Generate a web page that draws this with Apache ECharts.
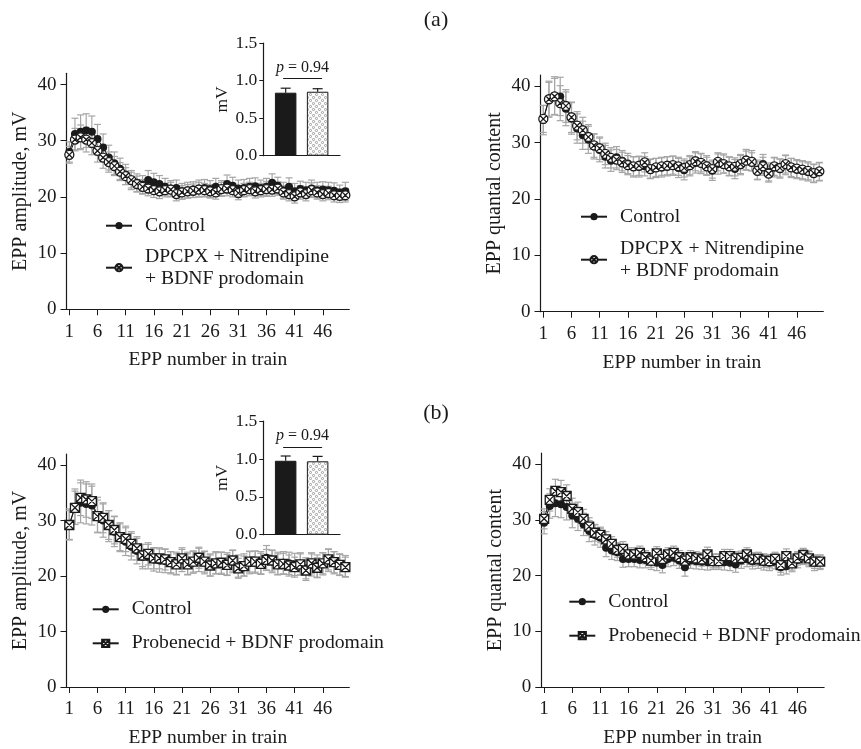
<!DOCTYPE html>
<html><head><meta charset="utf-8">
<script src="https://cdn.jsdelivr.net/npm/echarts@6/dist/echarts.min.js"></script>
<style>html,body{margin:0;padding:0;background:#fff}#c{width:861px;height:749px}</style>
</head><body><div id="c"></div>
<script>
// ---------- categories / ticks ----------
const eppNumbers = Array.from({length: 50}, (_, i) => i + 1);
const eppTicks = [1, 6, 11, 16, 21, 26, 31, 36, 41, 46];
const yTicks = [0, 10, 20, 30, 40];
const insetTicks = [0, 0.5, 1.0, 1.5];
const nameCtrl = 'Control';
const nameDP = 'DPCPX + Nitrendipine\n+ BDNF prodomain';
const namePB = 'Probenecid + BDNF prodomain';
const pText = '0.94';

// ---------- (a) EPP amplitude, DPCPX + Nitrendipine + BDNF prodomain ----------
const ampCtrlA = [28,31.2,31.6,31.8,31.6,30.3,28.8,27,26,25,24,23,22.5,22.2,23,22.6,22.3,21.8,21.5,21.6,21,21.2,21.3,21.5,21.6,21.4,21.8,21.5,22.3,22,21.5,21.6,21.8,21.9,21.6,21.8,22.5,22,21.2,21.8,21,21.4,21.2,21.5,21.2,21.3,21.2,21.1,20.8,21];
const ampCtrlAErr = [1.8,2.8,3.0,3.0,2.8,2.6,2.4,2.2,2.0,1.9,1.8,1.7,1.6,1.6,1.7,1.6,1.5,1.5,1.4,1.4,1.4,1.4,1.4,1.5,1.5,1.5,1.5,1.4,1.6,1.5,1.5,1.5,1.5,1.5,1.4,1.5,1.6,1.5,1.4,1.6,1.4,1.4,1.4,1.5,1.4,1.4,1.4,1.4,1.3,1.6];
const ampTrtA = [27.5,30.2,30.6,30.2,29.6,28.2,27,26.2,25.5,24.5,23.7,23,22.3,21.8,21.5,21.2,21,21.2,21.3,20.5,20.8,21,21.1,21.3,21.2,21,20.8,21.4,21.5,21.2,20.7,21.2,21.4,21,21.2,21.4,21.3,21.5,20.8,20.5,20.1,20.8,20.5,21.2,20.8,20.5,20.7,20.3,20.2,20.3];
const ampTrtAErr = [1.5,2.0,2.2,2.2,2.1,2.0,1.9,1.8,1.7,1.6,1.5,1.4,1.4,1.3,1.3,1.3,1.3,1.2,1.3,1.2,1.2,1.2,1.2,1.3,1.2,1.2,1.2,1.2,1.3,1.2,1.2,1.2,1.2,1.2,1.2,1.3,1.2,1.2,1.2,1.2,1.2,1.2,1.2,1.3,1.2,1.2,1.2,1.2,1.2,1.2];
const qcCtrlA = [34,37.7,38.3,38.2,36,34.3,32.5,31.3,30.5,29.3,28.7,27.5,26.8,27.4,26.8,26.3,25.7,25.7,25.8,25.4,25.5,25.6,25.8,25.9,25.5,25.1,25.8,26.4,26.3,26,25,26.2,26.3,25.8,25.3,26,27,26.8,25.2,26.2,24.8,25.6,25.4,26,25.5,25.2,25,24.8,24.5,24.8];
const qcCtrlAErr = [2.6,3.2,3.4,3.4,3.0,2.8,2.6,2.5,2.4,2.2,2.1,2.0,1.9,1.9,1.8,1.8,1.8,1.8,1.7,1.7,1.7,1.7,1.7,1.7,1.7,1.7,1.7,1.8,1.8,1.7,1.7,1.8,1.7,1.7,1.7,1.7,1.8,1.8,1.7,1.7,1.6,1.7,1.7,1.7,1.7,1.6,1.6,1.6,1.6,1.6];
const qcTrtA = [34.2,37.7,38.2,37,36.5,34.5,33,32.2,31,29.5,29,28,27.3,27,26.5,26,25.8,25.9,26.5,25.3,25.6,25.8,25.9,26,25.8,25.5,26,26.7,26.4,25.8,25.3,26.6,26.2,25.8,25.7,26.2,26.8,26.6,25,25.8,24.5,25.8,25.5,26.2,25.6,25.4,25.2,25,24.6,24.9];
const qcTrtAErr = [2.4,3.0,3.2,3.1,2.9,2.7,2.5,2.3,2.2,2.1,2.0,1.9,1.8,1.8,1.8,1.7,1.7,1.7,1.7,1.7,1.6,1.6,1.6,1.6,1.6,1.6,1.7,1.7,1.6,1.6,1.6,1.6,1.6,1.6,1.6,1.7,1.7,1.6,1.6,1.6,1.5,1.6,1.6,1.6,1.6,1.6,1.6,1.6,1.6,1.6];
const insetA = [0.84, 0.853];
const insetAErr = [0.06, 0.04];

// ---------- (b) Probenecid + BDNF prodomain ----------
const ampCtrlB = [29.3,32.5,33.2,33,32.7,31,30,29,28,27,26.2,25.3,24.5,23.5,23.5,23,22.8,22.7,22.4,22.3,22.8,22.3,22.5,22.9,22.4,22,22.4,22.3,22.2,22.6,21.8,22,22.4,22.5,22.4,23.3,22.6,22.3,22.4,22.3,22.1,22.2,21.4,22,21.8,22.2,22.8,22.4,22.1,21.8];
const ampCtrlBErr = [2.8,3.2,3.6,3.6,3.5,3.2,3.0,2.8,2.7,2.6,2.5,2.4,2.3,2.2,2.2,2.1,2.1,2.1,2.0,2.0,2.0,2.0,2.0,2.1,2.0,2.0,2.0,2.0,2.0,2.0,2.0,2.0,2.0,2.0,2.0,2.2,2.0,2.0,2.0,2.0,2.0,2.0,1.9,2.0,2.0,2.0,2.0,2.0,1.9,1.9];
const ampTrtB = [29.2,32.3,34.1,33.8,33.5,30.8,30.5,29.2,28.3,27,26.7,25.8,25,23.7,24,23.2,23.2,23,22.5,22.1,23.2,22.1,22.6,23.3,22.6,21.9,22.3,22.4,22,22.8,21.4,21.8,22.6,22.6,22.2,22.9,22.8,22.1,22.2,21.9,21.6,22.1,21,22.3,21.5,22.3,23,22.5,22,21.6];
const ampTrtBErr = [2.6,3.0,3.2,3.2,3.1,2.9,2.7,2.6,2.5,2.4,2.3,2.2,2.1,2.0,2.0,1.9,1.9,1.9,1.9,1.9,1.9,1.9,1.9,1.9,1.9,1.9,1.9,1.9,1.9,1.9,1.8,1.8,1.9,1.9,1.9,1.9,1.9,1.9,1.9,1.9,1.8,1.9,1.8,1.9,1.8,1.9,1.9,1.9,1.9,1.8];
const qcCtrlB = [29.5,32.5,33,32.8,32.3,30.8,30.2,29.2,28,27.3,26.8,25,24.5,24.2,23,23,23,22.8,22.8,22.5,22.3,21.9,23,23.2,22.7,21.5,22.7,22.6,22.5,22.4,22.5,22.5,22.4,22.3,22,22.7,23,22.6,22.7,22.4,22.3,22.6,21.5,21.7,22.1,22.8,23.4,23,22.3,22.4];
const qcCtrlBErr = [2.0,2.2,2.4,2.4,2.3,2.2,2.1,2.0,1.9,1.8,1.7,1.6,1.6,1.5,1.5,1.4,1.4,1.4,1.4,1.4,1.4,1.4,1.4,1.4,1.4,1.6,1.4,1.4,1.4,1.4,1.4,1.4,1.4,1.4,1.4,1.4,1.4,1.4,1.4,1.4,1.4,1.4,1.4,1.4,1.4,1.4,1.4,1.4,1.4,1.3];
const qcTrtB = [30.2,33.6,35.2,35,34.3,32,31.4,30.2,28.8,27.7,27.3,26.5,25.7,24.6,24.8,23.8,23.8,24.1,23.3,22.7,24,23,23.8,24.1,23.3,22.7,23.3,23.1,22.9,23.8,22.6,22.6,23.5,23.5,23.1,23.2,23.8,22.9,23,22.7,22.6,23,21.9,23.5,22.2,23.1,23.7,23.1,22.5,22.5];
const qcTrtBErr = [1.8,2.0,2.1,2.1,2.0,1.9,1.8,1.7,1.6,1.5,1.4,1.4,1.3,1.3,1.3,1.2,1.2,1.2,1.2,1.2,1.2,1.2,1.2,1.2,1.2,1.2,1.2,1.2,1.2,1.3,1.2,1.2,1.2,1.2,1.2,1.2,1.2,1.2,1.2,1.2,1.2,1.2,1.3,1.3,1.2,1.2,1.2,1.2,1.2,1.2];
const insetB = [0.977, 0.97];
const insetBErr = [0.063, 0.065];

// ---------- styling ----------
const FONT = 'Liberation Serif';
const INK = '#1a1a1a';
const ERR = '#a6a6a6';
const circX = 'path://M0,10 A10,10 0 1,1 20,10 A10,10 0 1,1 0,10 Z M3,3 L17,17 M17,3 L3,17';
const sqX = 'path://M0,0 L20,0 L20,20 L0,20 Z M0,0 L20,20 M20,0 L0,20';

function dotPattern() {
  const c = document.createElement('canvas');
  c.width = 6; c.height = 6;
  const g = c.getContext('2d');
  g.fillStyle = '#fff'; g.fillRect(0, 0, 6, 6);
  g.strokeStyle = '#8a8a8a'; g.lineWidth = 0.8;
  g.beginPath(); g.arc(1.5, 1.5, 1.1, 0, Math.PI * 2); g.stroke();
  g.beginPath(); g.arc(4.5, 4.5, 1.1, 0, Math.PI * 2); g.stroke();
  return c;
}
const pattern = {image: dotPattern(), repeat: 'repeat'};

const grids = [
  {left: 66.5, top: 73.3, width: 282.8, height: 236},
  {left: 540.5, top: 75, width: 282.8, height: 236.7},
  {left: 66.5, top: 454, width: 282.8, height: 235.3},
  {left: 541.3, top: 453.1, width: 282.8, height: 235.2},
  {left: 263.3, top: 43.2, width: 76.7, height: 112.5},
  {left: 263.3, top: 421.2, width: 76.7, height: 113.5}
];

const axisLineStyle = {show: true, lineStyle: {color: INK, width: 1.2}};

function mainX(gi) {
  return {
    type: 'value', gridIndex: gi, min: 0.5, max: 50.7,
    name: 'EPP number in train', nameLocation: 'middle', nameGap: 41,
    nameTextStyle: {fontFamily: FONT, fontSize: 19.5, color: INK},
    axisLine: axisLineStyle,
    axisTick: {show: true, length: 6, lineStyle: {color: INK}, customValues: eppTicks},
    axisLabel: {fontFamily: FONT, fontSize: 19, color: INK, margin: 13, customValues: eppTicks},
    splitLine: {show: false}
  };
}
function mainY(gi, title) {
  return {
    type: 'value', gridIndex: gi, min: 0, max: 42,
    name: title, nameLocation: 'middle', nameGap: 36,
    nameTextStyle: {fontFamily: FONT, fontSize: 20, color: INK},
    axisLine: axisLineStyle,
    axisTick: {show: true, length: 6, lineStyle: {color: INK}, customValues: yTicks},
    axisLabel: {fontFamily: FONT, fontSize: 19, color: INK, margin: 10, customValues: yTicks},
    splitLine: {show: false}
  };
}
function insetX(gi) {
  return {
    type: 'value', gridIndex: gi, min: 0.3, max: 2.7,
    axisLine: axisLineStyle, axisTick: {show: false}, axisLabel: {show: false}, splitLine: {show: false}
  };
}
function insetY(gi) {
  return {
    type: 'value', gridIndex: gi, min: 0, max: 1.5,
    name: 'mV', nameLocation: 'middle', nameGap: 27,
    nameTextStyle: {fontFamily: FONT, fontSize: 17.5, color: INK},
    axisLine: axisLineStyle,
    axisTick: {show: true, length: 4, lineStyle: {color: INK}, customValues: insetTicks},
    axisLabel: {fontFamily: FONT, fontSize: 17.5, color: INK, margin: 6, customValues: insetTicks,
      formatter: v => v.toFixed(1)},
    splitLine: {show: false}
  };
}

function errSeries(gi, vals, errs, upOnly) {
  return {
    type: 'custom', xAxisIndex: gi, yAxisIndex: gi, z: 1, silent: true,
    data: vals.map((v, i) => [upOnly ? i + 1 : eppNumbers[i], v, errs[i]]),
    renderItem: (params, api) => {
      const x = api.value(0), y = api.value(1), e = api.value(2);
      const top = api.coord([x, y + e]);
      const bot = api.coord([x, upOnly ? y : y - e]);
      const cw = upOnly ? 5 : 3.5;
      const st = {stroke: upOnly ? INK : ERR, lineWidth: 1.2};
      const children = [
        {type: 'line', shape: {x1: top[0], y1: top[1], x2: bot[0], y2: bot[1]}, style: st},
        {type: 'line', shape: {x1: top[0] - cw, y1: top[1], x2: top[0] + cw, y2: top[1]}, style: st}
      ];
      if (!upOnly) children.push({type: 'line', shape: {x1: bot[0] - cw, y1: bot[1], x2: bot[0] + cw, y2: bot[1]}, style: st});
      return {type: 'group', children};
    }
  };
}
function ctrlSeries(gi, vals) {
  return {
    type: 'line', name: nameCtrl, xAxisIndex: gi, yAxisIndex: gi, z: 3,
    data: vals.map((v, i) => [eppNumbers[i], v]),
    symbol: 'circle', symbolSize: 8, showAllSymbol: true,
    lineStyle: {color: INK, width: 1},
    itemStyle: {color: INK, borderColor: INK, borderWidth: 0}
  };
}
function trtSeries(gi, vals, name, sym, size) {
  return {
    type: 'line', name, xAxisIndex: gi, yAxisIndex: gi, z: 4,
    data: vals.map((v, i) => [eppNumbers[i], v]),
    symbol: sym, symbolSize: size, showAllSymbol: true,
    lineStyle: {color: INK, width: 1},
    itemStyle: {color: '#fff', borderColor: INK, borderWidth: 1.3}
  };
}
function barSeries(gi, vals, lineY) {
  return {
    type: 'bar', xAxisIndex: gi, yAxisIndex: gi, barWidth: 21.5, z: 3, silent: true,
    data: [
      {value: [1, vals[0]], itemStyle: {color: INK, borderColor: INK, borderWidth: 1}},
      {value: [2, vals[1]], itemStyle: {color: pattern, borderColor: INK, borderWidth: 1}}
    ],
    markLine: {
      silent: true, symbol: 'none', animation: false,
      lineStyle: {color: INK, width: 1, type: 'solid'},
      label: {show: true, position: 'middle', distance: 3, fontFamily: FONT, fontSize: 16, color: INK,
        formatter: '{i|p} = ' + pText, rich: {i: {fontStyle: 'italic', fontFamily: FONT, fontSize: 16, color: INK}}},
      data: [[{coord: [0.92, lineY]}, {coord: [2.14, lineY]}]]
    }
  };
}
function legend(left, top, names, gap) {
  return {
    orient: 'vertical', left, top, padding: 0, itemGap: gap, itemWidth: 26, itemHeight: 9,
    selectedMode: false, data: names,
    textStyle: {fontFamily: FONT, fontSize: 19.7, color: INK, lineHeight: 22, padding: [0, 0, 0, 8]}
  };
}

const option = {
  animation: false,
  backgroundColor: '#fff',
  textStyle: {fontFamily: FONT},
  title: [
    {text: '(a)', left: 431, top: 4, textAlign: 'center', textStyle: {fontFamily: FONT, fontSize: 22, fontWeight: 'normal', color: INK}},
    {text: '(b)', left: 431, top: 397, textAlign: 'center', textStyle: {fontFamily: FONT, fontSize: 22, fontWeight: 'normal', color: INK}}
  ],
  grid: grids,
  xAxis: [mainX(0), mainX(1), mainX(2), mainX(3), insetX(4), insetX(5)],
  yAxis: [mainY(0, 'EPP amplitude, mV'), mainY(1, 'EPP quantal content'),
          mainY(2, 'EPP amplitude, mV'), mainY(3, 'EPP quantal content'), insetY(4), insetY(5)],
  legend: [
    legend(105, 214.7, [nameCtrl, nameDP], 9),
    legend(580, 205.7, [nameCtrl, nameDP], 10),
    legend(91.7, 598.3, [nameCtrl, namePB], 12),
    legend(568.3, 590.7, [nameCtrl, namePB], 12)
  ],
  series: [
    errSeries(0, ampCtrlA, ampCtrlAErr), errSeries(0, ampTrtA, ampTrtAErr),
    ctrlSeries(0, ampCtrlA), trtSeries(0, ampTrtA, nameDP, circX, 9),
    errSeries(1, qcCtrlA, qcCtrlAErr), errSeries(1, qcTrtA, qcTrtAErr),
    ctrlSeries(1, qcCtrlA), trtSeries(1, qcTrtA, nameDP, circX, 9),
    errSeries(2, ampCtrlB, ampCtrlBErr), errSeries(2, ampTrtB, ampTrtBErr),
    ctrlSeries(2, ampCtrlB), trtSeries(2, ampTrtB, namePB, sqX, 9),
    errSeries(3, qcCtrlB, qcCtrlBErr), errSeries(3, qcTrtB, qcTrtBErr),
    ctrlSeries(3, qcCtrlB), trtSeries(3, qcTrtB, namePB, sqX, 9),
    barSeries(4, insetA, 1.03), errSeries(4, insetA, insetAErr, true),
    barSeries(5, insetB, 1.16), errSeries(5, insetB, insetBErr, true)
  ]
};
const chart = echarts.init(document.getElementById('c'), null, {renderer: 'canvas'});
chart.setOption(option);
</script></body></html>
